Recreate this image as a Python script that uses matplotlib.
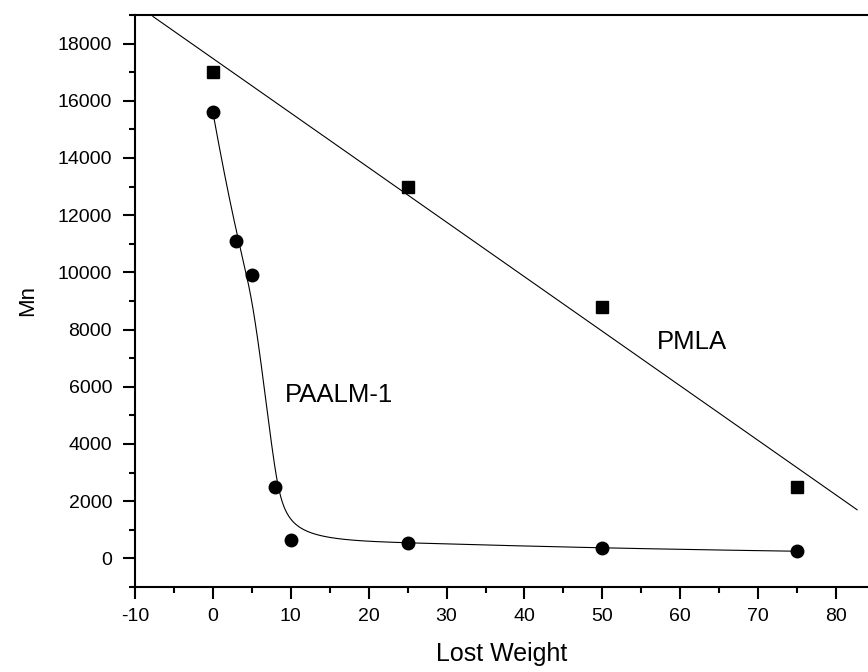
import matplotlib
matplotlib.use("Agg")
import matplotlib.pyplot as plt
import numpy as np

plt.rcParams['font.family'] = ['Liberation Sans', 'DejaVu Sans']
plt.rcParams['axes.unicode_minus'] = False

# PMLA (squares, linear fit)
pmla_x = [0, 25, 50, 75]
pmla_mn = [17000, 13000, 8800, 2500]
fit_range = (-7.7, 82.7)

# PAALM-1 (circles, smooth B-spline curve)
paalm_x = [0, 3, 5, 8, 10, 25, 50, 75]
paalm_mn = [15600, 11100, 9900, 2500, 650, 550, 350, 250]


def bspline(cx, cy, k=3, num=600):
    # clamped uniform B-spline using the points as control points
    n = len(cx)
    inner = np.linspace(0, 1, n - k + 1)
    t = np.concatenate([[0] * k, inner, [1] * k])
    u = np.linspace(0, 1, num)
    u[-1] = 1 - 1e-12

    def basis(i, d, u):
        if d == 0:
            return ((t[i] <= u) & (u < t[i + 1])).astype(float)
        a = 0.0
        b = 0.0
        if t[i + d] != t[i]:
            a = (u - t[i]) / (t[i + d] - t[i]) * basis(i, d - 1, u)
        if t[i + d + 1] != t[i + 1]:
            b = (t[i + d + 1] - u) / (t[i + d + 1] - t[i + 1]) * basis(i + 1, d - 1, u)
        return a + b

    N = np.array([basis(i, k, u) for i in range(n)])
    return N.T @ np.array(cx, float), N.T @ np.array(cy, float)


fig = plt.figure(figsize=(8.68, 6.72), dpi=100)
ax = fig.add_axes([0.1555, 0.1265, 0.8445, 0.8512])

slope, icpt = np.polyfit(pmla_x, pmla_mn, 1)
lx = np.array(fit_range)
ax.plot(lx, slope * lx + icpt, color='black', lw=0.8)
ax.plot(pmla_x, pmla_mn, 's', color='black', ms=8)

sx, sy = bspline(paalm_x, paalm_mn)
ax.plot(sx, sy, color='black', lw=0.8)
ax.plot(paalm_x, paalm_mn, 'o', color='black', ms=9)

ax.text(9.3, 5700, 'PAALM-1', fontsize=18.5, va='center', ha='left')
ax.text(57.0, 7560, 'PMLA', fontsize=18.5, va='center', ha='left')

ax.set_xlim(-10, 84.1)
ax.set_ylim(-1000, 19000)
ax.set_xticks(np.arange(-10, 81, 10))
ax.set_xticks(np.arange(-5, 84, 5), minor=True)
ax.set_yticks(np.arange(0, 18001, 2000))
ax.set_yticks(np.arange(-1000, 19001, 1000), minor=True)
ax.tick_params(which='major', direction='out', length=8.5, width=1.5, labelsize=14)
ax.tick_params(which='minor', direction='out', length=4, width=1.5)
ax.tick_params(axis='x', which='major', pad=6.5)
ax.tick_params(axis='y', which='major', pad=8)
for s in ['left', 'bottom', 'top']:
    ax.spines[s].set_linewidth(1.5)
ax.spines['right'].set_visible(False)

ax.set_xlabel('Lost Weight', fontsize=18)
ax.set_ylabel('Mn', fontsize=16)
ax.xaxis.set_label_coords(0.5, -0.096)
ax.yaxis.set_label_coords(-0.132, 0.5)

fig.savefig('out.png', dpi=100)
